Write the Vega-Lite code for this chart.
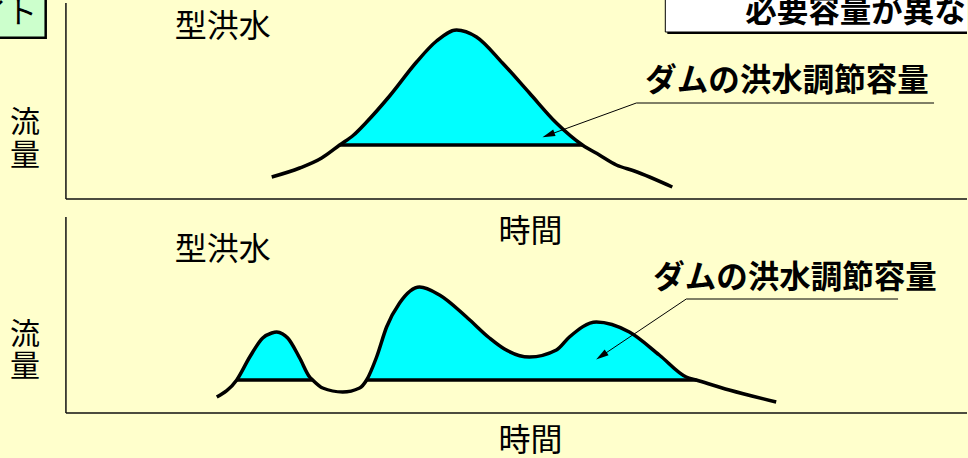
{
  "$schema": "https://vega.github.io/schema/vega-lite/v6.json",
  "width": 968,
  "height": 458,
  "autosize": {"type": "fit", "contains": "padding"},
  "padding": 0,
  "background": "#FFFFCC",
  "config": {"view": {"stroke": null}, "text": {"font": "Noto Sans CJK JP"}},
  "datasets": {
    "shadows": [
      {"x": -5, "x2": 47, "y": -5, "y2": 39},
      {"x": 668, "x2": 975, "y": -5, "y2": 34}
    ],
    "greenbox": [{"x": -5, "x2": 45, "y": -5, "y2": 37}],
    "whitebox": [{"x": 666, "x2": 975, "y": -5, "y2": 32}],
    "curve": [
      {"panel": "top", "x": 272, "y": 177},
      {"panel": "top", "x": 300, "y": 168},
      {"panel": "top", "x": 322, "y": 158},
      {"panel": "top", "x": 340, "y": 145},
      {"panel": "top", "x": 354, "y": 135},
      {"panel": "top", "x": 367, "y": 122},
      {"panel": "top", "x": 390, "y": 96},
      {"panel": "top", "x": 417, "y": 62},
      {"panel": "top", "x": 437, "y": 41},
      {"panel": "top", "x": 457, "y": 30},
      {"panel": "top", "x": 477, "y": 37},
      {"panel": "top", "x": 503, "y": 63},
      {"panel": "top", "x": 530, "y": 93},
      {"panel": "top", "x": 557, "y": 123},
      {"panel": "top", "x": 583, "y": 145},
      {"panel": "top", "x": 600, "y": 155},
      {"panel": "top", "x": 617, "y": 165},
      {"panel": "top", "x": 635, "y": 171},
      {"panel": "top", "x": 673, "y": 187},
      {"panel": "bottom", "x": 217, "y": 397},
      {"panel": "bottom", "x": 237, "y": 380},
      {"panel": "bottom", "x": 250, "y": 357},
      {"panel": "bottom", "x": 263, "y": 338},
      {"panel": "bottom", "x": 272, "y": 333},
      {"panel": "bottom", "x": 277, "y": 332},
      {"panel": "bottom", "x": 283, "y": 334},
      {"panel": "bottom", "x": 288, "y": 338},
      {"panel": "bottom", "x": 300, "y": 358},
      {"panel": "bottom", "x": 310, "y": 377},
      {"panel": "bottom", "x": 313, "y": 380},
      {"panel": "bottom", "x": 323, "y": 388},
      {"panel": "bottom", "x": 343, "y": 392},
      {"panel": "bottom", "x": 360, "y": 388},
      {"panel": "bottom", "x": 367, "y": 380},
      {"panel": "bottom", "x": 377, "y": 357},
      {"panel": "bottom", "x": 387, "y": 327},
      {"panel": "bottom", "x": 400, "y": 303},
      {"panel": "bottom", "x": 420, "y": 287},
      {"panel": "bottom", "x": 440, "y": 295},
      {"panel": "bottom", "x": 467, "y": 317},
      {"panel": "bottom", "x": 490, "y": 338},
      {"panel": "bottom", "x": 505, "y": 349},
      {"panel": "bottom", "x": 530, "y": 357},
      {"panel": "bottom", "x": 557, "y": 350},
      {"panel": "bottom", "x": 570, "y": 337},
      {"panel": "bottom", "x": 597, "y": 322},
      {"panel": "bottom", "x": 630, "y": 332},
      {"panel": "bottom", "x": 660, "y": 355},
      {"panel": "bottom", "x": 687, "y": 377},
      {"panel": "bottom", "x": 697, "y": 380},
      {"panel": "bottom", "x": 730, "y": 390},
      {"panel": "bottom", "x": 777, "y": 402}
    ],
    "fills": [
      {"seg": "a", "x": 340, "y": 145, "base": 145},
      {"seg": "a", "x": 354, "y": 135, "base": 145},
      {"seg": "a", "x": 367, "y": 122, "base": 145},
      {"seg": "a", "x": 390, "y": 96, "base": 145},
      {"seg": "a", "x": 417, "y": 62, "base": 145},
      {"seg": "a", "x": 437, "y": 41, "base": 145},
      {"seg": "a", "x": 457, "y": 30, "base": 145},
      {"seg": "a", "x": 477, "y": 37, "base": 145},
      {"seg": "a", "x": 503, "y": 63, "base": 145},
      {"seg": "a", "x": 530, "y": 93, "base": 145},
      {"seg": "a", "x": 557, "y": 123, "base": 145},
      {"seg": "a", "x": 583, "y": 145, "base": 145},
      {"seg": "b", "x": 237, "y": 380, "base": 380},
      {"seg": "b", "x": 250, "y": 357, "base": 380},
      {"seg": "b", "x": 263, "y": 338, "base": 380},
      {"seg": "b", "x": 272, "y": 333, "base": 380},
      {"seg": "b", "x": 277, "y": 332, "base": 380},
      {"seg": "b", "x": 283, "y": 334, "base": 380},
      {"seg": "b", "x": 288, "y": 338, "base": 380},
      {"seg": "b", "x": 300, "y": 358, "base": 380},
      {"seg": "b", "x": 310, "y": 377, "base": 380},
      {"seg": "b", "x": 313, "y": 380, "base": 380},
      {"seg": "c", "x": 367, "y": 380, "base": 380},
      {"seg": "c", "x": 377, "y": 357, "base": 380},
      {"seg": "c", "x": 387, "y": 327, "base": 380},
      {"seg": "c", "x": 400, "y": 303, "base": 380},
      {"seg": "c", "x": 420, "y": 287, "base": 380},
      {"seg": "c", "x": 440, "y": 295, "base": 380},
      {"seg": "c", "x": 467, "y": 317, "base": 380},
      {"seg": "c", "x": 490, "y": 338, "base": 380},
      {"seg": "c", "x": 505, "y": 349, "base": 380},
      {"seg": "c", "x": 530, "y": 357, "base": 380},
      {"seg": "c", "x": 557, "y": 350, "base": 380},
      {"seg": "c", "x": 570, "y": 337, "base": 380},
      {"seg": "c", "x": 597, "y": 322, "base": 380},
      {"seg": "c", "x": 630, "y": 332, "base": 380},
      {"seg": "c", "x": 660, "y": 355, "base": 380},
      {"seg": "c", "x": 687, "y": 377, "base": 380},
      {"seg": "c", "x": 697, "y": 380, "base": 380}
    ],
    "baselines": [
      {"x": 340, "x2": 583, "y": 145, "y2": 145},
      {"x": 237, "x2": 313, "y": 380, "y2": 380},
      {"x": 367, "x2": 697, "y": 380, "y2": 380}
    ],
    "axes": [
      {"x": 66, "y": 3, "x2": 66, "y2": 199},
      {"x": 66, "y": 199, "x2": 968, "y2": 199},
      {"x": 66, "y": 217, "x2": 66, "y2": 413},
      {"x": 66, "y": 413, "x2": 968, "y2": 413}
    ],
    "leaders": [
      {"x": 637, "y": 103, "x2": 935, "y2": 103},
      {"x": 637, "y": 103, "x2": 549, "y2": 135},
      {"x": 687, "y": 299, "x2": 899, "y2": 299},
      {"x": 687, "y": 299, "x2": 602, "y2": 356}
    ],
    "arrowheads": [
      {"x": 549, "y": 135, "angle": 250},
      {"x": 602, "y": 356, "angle": 236}
    ],
    "text32": [
      {"t": "型洪水", "x": 175, "y": 27},
      {"t": "型洪水", "x": 175, "y": 250},
      {"t": "時間", "x": 499, "y": 232},
      {"t": "時間", "x": 499, "y": 441}
    ],
    "text30": [
      {"t": "流", "x": 10, "y": 123},
      {"t": "量", "x": 10, "y": 156},
      {"t": "流", "x": 10, "y": 335},
      {"t": "量", "x": 10, "y": 367},
      {"t": "イト", "x": -23, "y": 14}
    ],
    "bold": [
      {"t": "ダムの洪水調節容量", "x": 646, "y": 82},
      {"t": "ダムの洪水調節容量", "x": 654, "y": 279},
      {"t": "必要容量が異な", "x": 746, "y": 13}
    ]
  },
  "encoding": {
    "x": {"field": "x", "type": "quantitative", "scale": {"domain": [0, 968], "nice": false, "zero": false}, "axis": null},
    "y": {"field": "y", "type": "quantitative", "scale": {"domain": [0, 458], "nice": false, "zero": false, "reverse": true}, "axis": null}
  },
  "layer": [
    {"data": {"name": "shadows"}, "mark": {"type": "rect", "color": "#000000", "clip": true},
     "encoding": {"x2": {"field": "x2"}, "y2": {"field": "y2"}}},
    {"data": {"name": "greenbox"}, "mark": {"type": "rect", "fill": "#CCFFCC", "stroke": "#000000", "strokeWidth": 1, "clip": true},
     "encoding": {"x2": {"field": "x2"}, "y2": {"field": "y2"}}},
    {"data": {"name": "whitebox"}, "mark": {"type": "rect", "fill": "#FFFFFF", "stroke": "#000000", "strokeWidth": 1, "clip": true},
     "encoding": {"x2": {"field": "x2"}, "y2": {"field": "y2"}}},
    {"data": {"name": "fills"}, "mark": {"type": "area", "color": "#00FFFF", "interpolate": "monotone", "opacity": 1},
     "encoding": {"y2": {"field": "base"}, "detail": {"field": "seg"}}},
    {"data": {"name": "baselines"}, "mark": {"type": "rule", "color": "#000000", "strokeWidth": 3.5},
     "encoding": {"x2": {"field": "x2"}, "y2": {"field": "y2"}}},
    {"data": {"name": "curve"}, "mark": {"type": "line", "color": "#000000", "strokeWidth": 3.5, "interpolate": "monotone", "strokeCap": "butt"},
     "encoding": {"detail": {"field": "panel"}}},
    {"data": {"name": "axes"}, "mark": {"type": "rule", "color": "#111111", "strokeWidth": 1.5},
     "encoding": {"x2": {"field": "x2"}, "y2": {"field": "y2"}}},
    {"data": {"name": "leaders"}, "mark": {"type": "rule", "color": "#000000", "strokeWidth": 1},
     "encoding": {"x2": {"field": "x2"}, "y2": {"field": "y2"}}},
    {"data": {"name": "arrowheads"}, "mark": {"type": "point", "shape": "M0,-1L0.55,1L-0.55,1Z", "filled": true, "color": "#000000", "size": 160, "opacity": 1},
     "encoding": {"angle": {"field": "angle", "type": "quantitative", "scale": null}}},
    {"data": {"name": "text32"}, "mark": {"type": "text", "fontSize": 32, "align": "left", "baseline": "middle", "color": "#000000", "clip": true},
     "encoding": {"text": {"field": "t"}}},
    {"data": {"name": "text30"}, "mark": {"type": "text", "fontSize": 30, "align": "left", "baseline": "middle", "color": "#000000", "clip": true},
     "encoding": {"text": {"field": "t"}}},
    {"data": {"name": "bold"}, "mark": {"type": "text", "fontSize": 31.5, "fontWeight": "bold", "align": "left", "baseline": "middle", "color": "#000000", "clip": true},
     "encoding": {"text": {"field": "t"}}}
  ]
}
